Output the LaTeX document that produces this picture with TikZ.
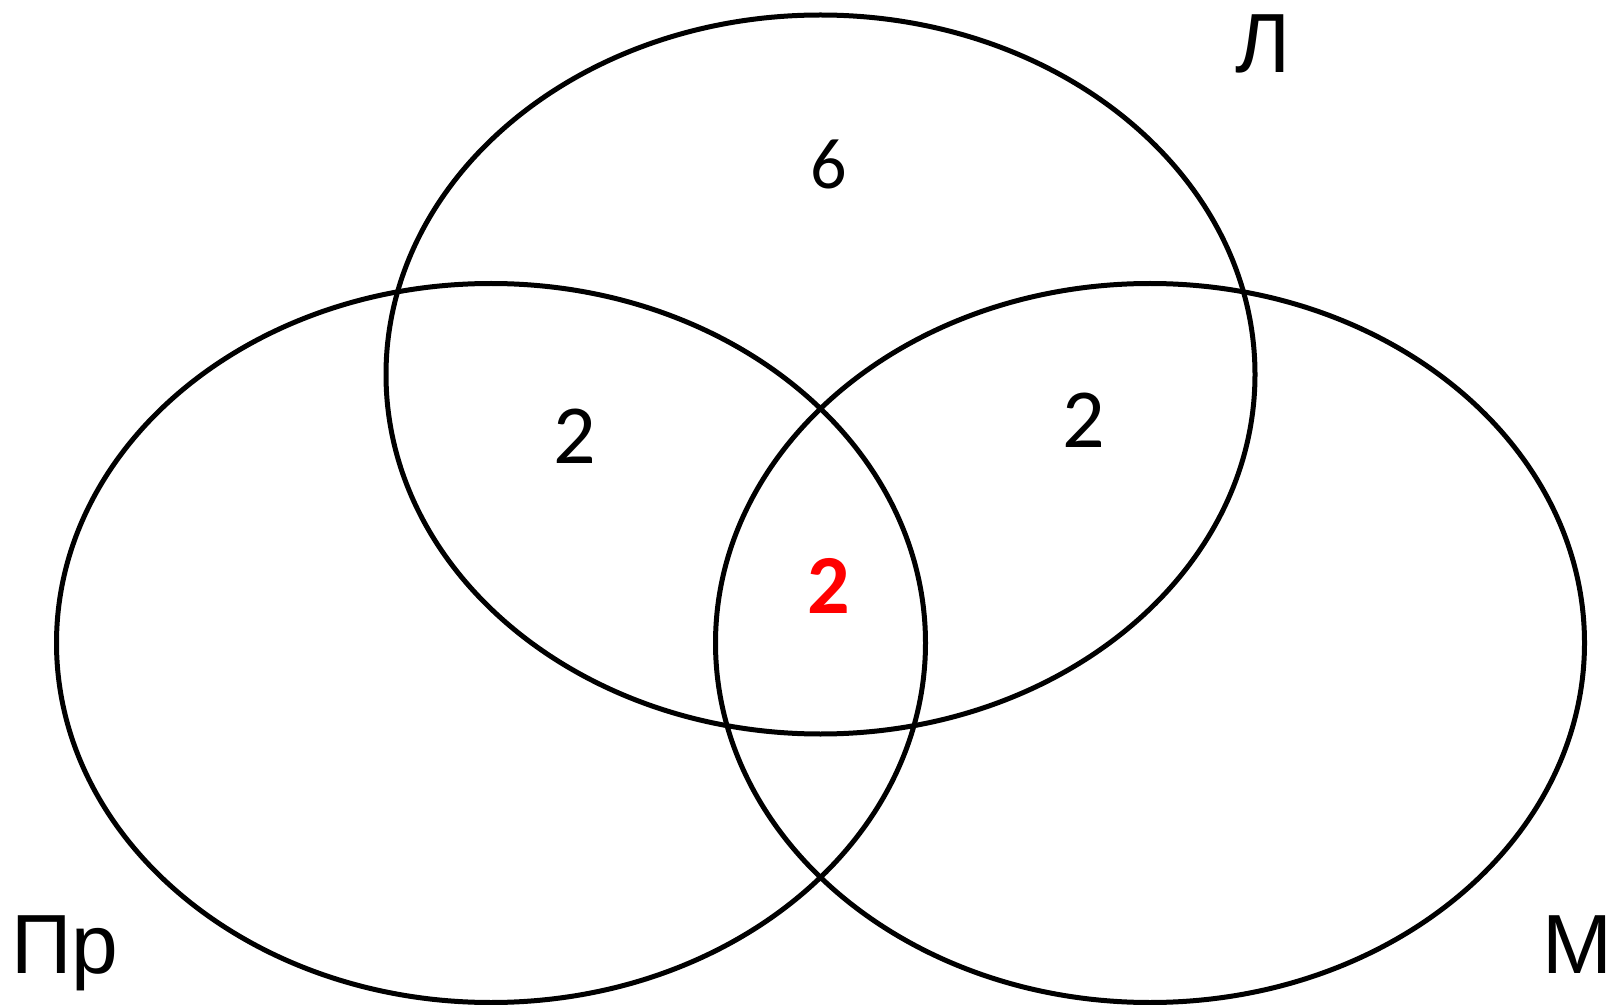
\documentclass[tikz,border=0pt]{standalone}
\usepackage{fontspec}
\setmainfont{Liberation Sans}
\newfontfamily\numfont{Carlito}
\usepackage{xcolor}
\usetikzlibrary{shapes.geometric}

\begin{document}
\begin{tikzpicture}[x=0.5pt, y=-0.5pt,
  venn/.style={draw, ellipse, line width=2.5pt, inner sep=0pt,
    minimum width=434.5pt, minimum height=359.5pt},
  setname/.style={anchor=base, inner sep=0pt, font=\fontsize{42}{42}\selectfont},
  count/.style={anchor=base, inner sep=0pt, font=\numfont\fontsize{42}{42}\selectfont}]
\useasboundingbox (0,0) rectangle (1617,1005);

% the three sets
\node [venn] (setL) at (820.5,374.5) {};
\node [venn] (setPr) at (491,643) {};
\node [venn] (setM) at (1150,643) {};

% set names
\node [setname] (nameL) at (1263,73) {Л};
\node [setname] (namePr) at (65,973) {Пр};
\node [setname] (nameM) at (1577,973) {М};

% counts in the regions
\node [count, font=\numfont\fontsize{36}{36}\selectfont] (onlyL) at (828.5,189) {6};
\node [count] (LPr) at (574.5,464) {2};
\node [count] (LM) at (1083.5,448) {2};
\node [count, red, font=\numfont\bfseries\fontsize{42}{42}\selectfont] (all) at (828.5,613) {2};
\end{tikzpicture}
\end{document}
